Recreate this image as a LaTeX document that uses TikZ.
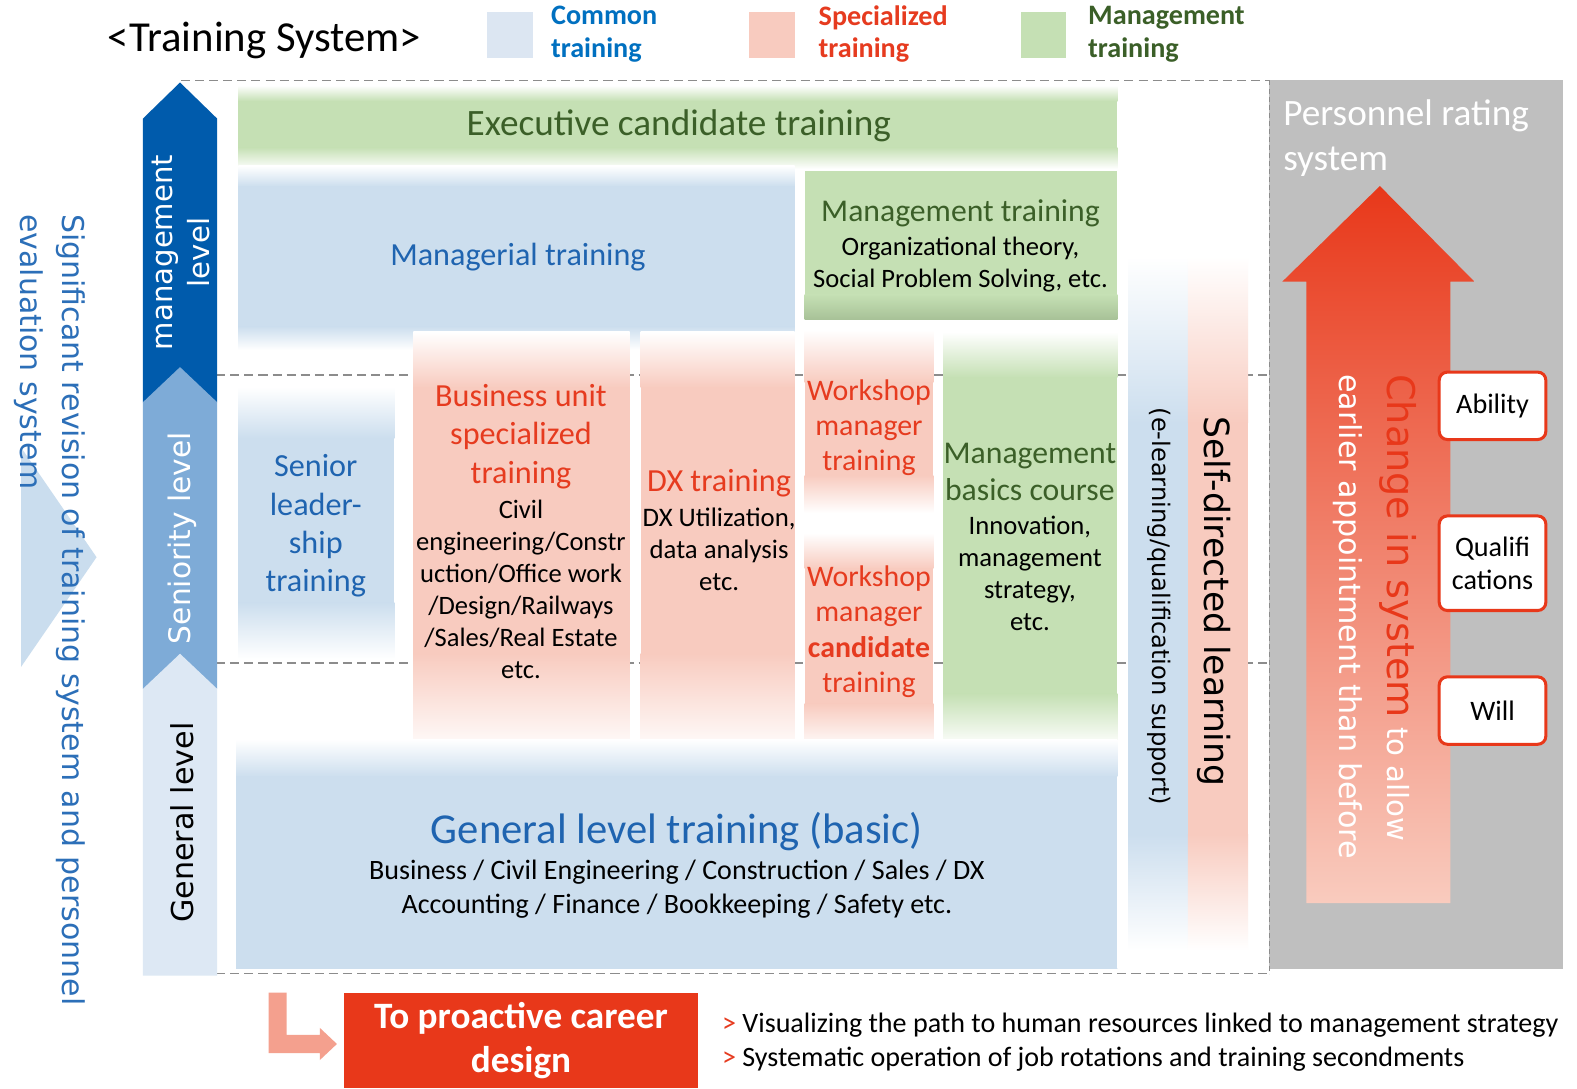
\documentclass[tikz,border=0pt]{standalone}
\usepackage{fontspec}
\setmainfont{Carlito}
\newfontfamily\dv{DejaVu Sans}
\newcommand{\fs}[2]{\fontsize{#1}{#2}\selectfont}
\definecolor{cBlueT}{HTML}{1F64B0}
\definecolor{cLegT}{HTML}{0070C0}
\definecolor{cRedT}{HTML}{E63B1F}
\definecolor{cGreenT}{HTML}{3B5F28}
\definecolor{cBlueF}{HTML}{CCDEEE}
\definecolor{cPinkF}{HTML}{F8CBBF}
\definecolor{cGreenF}{HTML}{C5E0B4}
\definecolor{cGreenD}{HTML}{A7C197}
\definecolor{cLegBlue}{HTML}{DCE6F2}
\definecolor{cDark}{HTML}{005BAC}
\definecolor{cSen}{HTML}{7EABD7}
\definecolor{cGen}{HTML}{DDE8F4}
\definecolor{cGray}{HTML}{BFBFBF}
\definecolor{cRed}{HTML}{E8381A}
\definecolor{cArrowTop}{HTML}{E8381A}
\definecolor{cArrowBot}{HTML}{F9CBBE}
\definecolor{cArrowL}{HTML}{F4A08E}
\definecolor{cSig}{HTML}{2C6FB8}
\definecolor{cSigF}{HTML}{CADDEE}
% x1 x2 yA yB yC yD color : fade in, solid, fade out
\newcommand{\vband}[7]{%
  \shade[top color=white, bottom color=#7] (#1,#3) rectangle (#2,#4+0.5);
  \fill[#7] (#1,#4) rectangle (#2,#5);
  \shade[top color=#7, bottom color=white] (#1,#5-0.5) rectangle (#2,#6);
}
\begin{document}
\begin{tikzpicture}[x=1pt,y=-1pt,
  every node/.style={inner sep=0pt, outer sep=0pt},
  lbl/.style={align=center},
  dline/.style={draw=black!45, line width=1.6pt, dash pattern=on 9pt off 5pt},
  rbox/.style={draw=cRed, line width=3pt, fill=white, rounded corners=8pt,
    minimum width=106pt, align=center, font=\fs{28}{33}}]
\useasboundingbox (0,0) rectangle (1568,1082);
\fill[white] (0,0) rectangle (1568,1082);

% ---------- legend and title
\node[lbl, font=\fs{42.5}{50}] (title) at (263,40) {<Training System>};
\fill[cLegBlue] (484,12) rectangle (530,58);
\node[anchor=west, align=left, text=cLegT, font=\bfseries\fs{28}{32}] (legc) at (548,34) {Common\\training};
\fill[cPinkF] (745,12) rectangle (790,58);
\node[anchor=west, align=left, text=cRedT, font=\bfseries\fs{28}{32}] (legs) at (814,34) {Specialized\\training};
\fill[cGreenF] (1015,12) rectangle (1060,58);
\node[anchor=west, align=left, text=cGreenT, font=\bfseries\fs{28}{32}] (legm) at (1082,34) {Management\\training};

% ---------- dashed grid and grey panel
\fill[cGray] (1262,80) rectangle (1554,963);
\draw[dline] (180,80) -- (1262,80);
\draw[dline] (215,373) -- (1262,373);
\draw[dline] (215,659) -- (1262,659);
\draw[dline] (215,968) -- (1262,968);
\draw[draw=black!45, line width=1.2pt, dash pattern=on 5pt off 3pt] (1262,80) -- (1262,968);

% ---------- left significant-revision chevron
\fill[cSigF] (21,445) -- (96,554) -- (21,663) -- cycle;
\node[anchor=base west, rotate=-90, text=cSig, font=\dv\fs{29.8}{36}] (sig1) at (62,213) {Significant revision of training system and personnel};
\node[anchor=base west, rotate=-90, text=cSig, font=\dv\fs{29.8}{36}] (sig2) at (20,213) {evaluation system};

% ---------- level arrows
\fill[cDark] (142,118) -- (179,82) -- (216,118) -- (216,400) -- (142,400) -- cycle;
\fill[cSen] (142,400) -- (179,365) -- (216,400) -- (216,685) -- (142,685) -- cycle;
\fill[cGen] (142,685) -- (179,650) -- (216,685) -- (216,970) -- (142,970) -- cycle;
\node[lbl, rotate=90, text=white, font=\dv\fs{29}{36}] (lvm) at (180,251) {management\\level};
\node[lbl, rotate=90, text=white, font=\dv\fs{29.5}{35}] (lvs) at (181,535) {Seniority level};
\node[lbl, rotate=90, text=black, font=\dv\fs{30}{36}] (lvg) at (181,818) {General level};

% ---------- bands
\vband{237}{1111}{85}{100}{147}{168}{cGreenF}
\vband{237}{790}{165}{185}{325}{348}{cBlueF}
\fill[cGreenF] (800,170) rectangle (1111,294);
\shade[top color=cGreenF, bottom color=cGreenD] (800,293) rectangle (1111,318);
\vband{237}{392}{385}{435}{600}{655}{cBlueF}
\vband{411}{626}{330}{385}{650}{750}{cPinkF}
\vband{637}{790}{330}{385}{650}{750}{cPinkF}
\vband{800}{928}{328}{380}{473}{510}{cPinkF}
\vband{800}{928}{530}{565}{700}{745}{cPinkF}
\vband{938}{1111}{330}{375}{690}{742}{cGreenF}
\vband{235}{1111}{735}{772}{963}{963}{cBlueF}
\vband{1122}{1181}{255}{420}{830}{945}{cBlueF}
\vband{1181}{1241}{255}{420}{830}{945}{cPinkF}

% ---------- band texts
\node[lbl, text=cGreenT, font=\fs{37}{44}] (exec) at (675,125) {Executive candidate training};
\node[lbl, text=cBlueT, font=\fs{32}{38}] (mgrl) at (515,256) {Managerial training};
\node[lbl, text=cGreenT, font=\fs{31.5}{38}] (mgth) at (955,212) {Management training};
\node[lbl, font=\fs{26.4}{32}] (mgtb) at (955,263) {Organizational theory,\\Social Problem Solving, etc.};
\node[lbl, text=cBlueT, font=\fs{32}{38}] (senior) at (314,523) {Senior\\leader-\\ship\\training};
\node[lbl, text=cRedT, font=\fs{32}{38}] (buh) at (518,434) {Business unit\\specialized\\training};
\node[lbl, font=\fs{26.4}{32}] (bub) at (518,586) {Civil\\engineering/Constr\\uction/Office work\\/Design/Railways\\/Sales/Real Estate\\etc.};
\node[lbl, text=cRedT, font=\fs{32}{38}] (dxh) at (715,480) {DX training};
\node[lbl, font=\fs{26.6}{32}] (dxb) at (715,546) {DX Utilization,\\data analysis\\etc.};
\node[lbl, text=cRedT, font=\fs{29.7}{35}] (wm1) at (864,425) {Workshop\\manager\\training};
\node[lbl, text=cRedT, font=\fs{29.7}{35}] (wm2) at (864,628) {Workshop\\manager\\\textbf{candidate}\\training};
\node[lbl, text=cGreenT, font=\fs{31.5}{37}] (mbh) at (1024,469) {Management\\basics course};
\node[lbl, font=\fs{26.5}{32}] (mbb) at (1024,570) {Innovation,\\management\\strategy,\\etc.};
\node[lbl, text=cBlueT, font=\fs{42.4}{50}] (genh) at (673,827) {General level training (basic)};
\node[lbl, font=\fs{27.9}{34}] (genb) at (673,884) {Business / Civil Engineering / Construction / Sales / DX\\Accounting / Finance / Bookkeeping / Safety etc.};
\node[lbl, rotate=-90, font=\dv\fs{24}{28}] (elearn) at (1153,603) {(e-learning/qualification support)};
\node[lbl, rotate=-90, font=\dv\fs{34.4}{40}] (selfl) at (1207,598) {Self-directed learning};

% ---------- personnel rating system
\node[anchor=west, align=left, text=white, font=\fs{37}{45}] (prs) at (1276,137) {Personnel rating\\system};
\shade[top color=cArrowTop, bottom color=cArrowBot]
  (1299,898) -- (1299,280) -- (1275,280) -- (1372,185) -- (1466,280) -- (1442,280) -- (1442,898) -- cycle;
\node[anchor=base west, rotate=-90, font=\dv] (chg1) at (1380,372)
  {\textcolor{cRed}{\fs{38}{44}Change in system}\textcolor{white}{\fs{29}{36}\ to allow}};
\node[anchor=base west, rotate=-90, text=white, font=\dv\fs{30}{36}] (chg2) at (1332,372) {earlier appointment than before};
\node[rbox, minimum height=67pt] (ability) at (1484,403.5) {Ability};
\node[rbox, minimum height=94pt] (qual) at (1484,560) {Qualifi\\cations};
\node[rbox, minimum height=67pt] (will) at (1484,706.5) {Will};

% ---------- bottom
\node[fill=cRed, minimum width=352pt, minimum height=95pt, align=center, text=white,
  font=\bfseries\fs{37}{44}] (career) at (518,1034.5) {To proactive career\\design};
\fill[cArrowL] (267,987) -- (285,987) -- (285,1029) -- (318,1029) -- (318,1022) -- (335,1038)
  -- (318,1054) -- (318,1047) -- (267,1047) -- cycle;
\node[anchor=west, font=\fs{27.9}{32}] (b1) at (718,1019) {\textcolor{cRedT}{>} Visualizing the path to human resources linked to management strategy};
\node[anchor=west, font=\fs{27.9}{32}] (b2) at (718,1053) {\textcolor{cRedT}{>} Systematic operation of job rotations and training secondments};
\end{tikzpicture}
\end{document}
